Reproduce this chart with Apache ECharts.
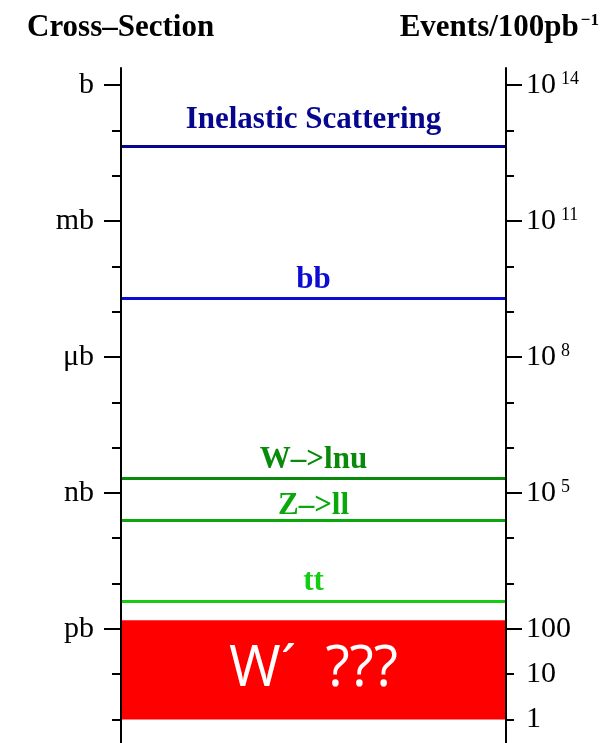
<!DOCTYPE html>
<html>
<head>
<meta charset="utf-8">
<title>Cross-Section</title>
<script src="https://cdn.jsdelivr.net/npm/echarts@6/dist/echarts.min.js"></script>
<style>
  html, body { margin: 0; padding: 0; background: #fff; }
  #chart { width: 608px; height: 743px; }
</style>
</head>
<body>
<div id="chart"></div>
<script>
// Processes and their cross-sections (in pb)
const processNames = ['Inelastic Scattering', 'bb', 'W–>lnu', 'Z–>ll', 'tt'];
const crossSectionPb = [4.6e10, 2.0e7, 2100, 254, 4.1];

// Search region for a new W' boson (cross-section range in pb)
const searchLabel = 'W\u00B4  ???';
const searchRangePb = [0.01, 1.55];

// Left axis: cross-section units at each power of ten (log10 pb)
const unitExponents = [12, 9, 6, 3, 0];
const unitLabels = ['b', 'mb', 'μb', 'nb', 'pb'];
const minorExponents = [11, 10, 8, 7, 5, 4, 2, 1, -1, -2];

// Right axis: expected events for 100 pb^-1 (log10 of cross-section in pb + 2)
const eventExponents = [12, 9, 6, 3, 0, -1, -2];
const eventLabels = [['10', '14'], ['10', '11'], ['10', '8'], ['10', '5'], ['100'], ['10'], ['1']];
const eventMajorExponents = [12, 9, 6, 3, 0];
const eventMinorExponents = [11, 10, 8, 7, 5, 4, 2, 1, -1, -2];

const processColors = ['#06068f', '#0c0cd2', '#0a8a0a', '#0aa80a', '#14cc14'];
const labelDistance = [10, 2.5, 3, -1.5, 4];

const serif = '"Liberation Serif", "Times New Roman", serif';
// Visible extent of the axes, in log10(pb)
const AXIS_MIN = -2.52, AXIS_MAX = 12.38;

const chart = echarts.init(document.getElementById('chart'));

function yAxisBase(position) {
  return {
    type: 'value',
    position: position,
    min: AXIS_MIN,
    max: AXIS_MAX,
    z: 10,
    splitLine: { show: false },
    axisLine: { show: true, onZero: false, lineStyle: { color: '#000', width: 2 } },
    axisTick: { show: true, lineStyle: { color: '#000', width: 2 } },
    axisLabel: { show: false }
  };
}

const leftMajor = yAxisBase('left');
leftMajor.axisTick.customValues = unitExponents;
leftMajor.axisTick.length = 17;
leftMajor.axisLabel = {
  show: true,
  customValues: unitExponents,
  margin: 27,
  fontFamily: serif,
  fontSize: 30,
  color: '#000',
  formatter: function (v) {
    const i = unitExponents.indexOf(Math.round(v));
    return i >= 0 ? unitLabels[i] : '';
  }
};

const leftMinor = yAxisBase('left');
leftMinor.axisLine.show = false;
leftMinor.axisTick.customValues = minorExponents;
leftMinor.axisTick.length = 9;

const rightMajor = yAxisBase('right');
rightMajor.axisTick.customValues = eventMajorExponents;
rightMajor.axisTick.length = 16;
rightMajor.axisLabel = {
  show: true,
  customValues: eventExponents,
  margin: 20,
  fontFamily: serif,
  fontSize: 30,
  color: '#000',
  formatter: function (v) {
    const i = eventExponents.indexOf(Math.round(v));
    if (i < 0) return '';
    const parts = eventLabels[i];
    return parts.length > 1 ? '{b|' + parts[0] + '}{s|' + parts[1] + '}' : '{b|' + parts[0] + '}';
  },
  rich: {
    b: { fontFamily: serif, fontSize: 30, color: '#000' },
    s: { fontFamily: serif, fontSize: 18, color: '#000', verticalAlign: 'top', padding: [0, 0, 12, 5] }
  }
};

const rightMinor = yAxisBase('right');
rightMinor.axisLine.show = false;
rightMinor.axisTick.customValues = eventMinorExponents;
rightMinor.axisTick.length = 8;

const processSeries = processNames.map(function (name, i) {
  return {
    type: 'line',
    name: name,
    data: [],
    yAxisIndex: 0,
    silent: true,
    markLine: {
      silent: true,
      symbol: ['none', 'none'],
      animation: false,
      lineStyle: { color: processColors[i], width: 3, type: 'solid' },
      label: {
        show: true,
        position: 'insideMiddleTop',
        distance: labelDistance[i],
        formatter: name,
        fontFamily: serif,
        fontWeight: 'bold',
        fontSize: 31,
        lineHeight: 31,
        color: processColors[i]
      },
      emphasis: { disabled: true },
      data: [{ yAxis: Math.log10(crossSectionPb[i]) }]
    }
  };
});

const searchSeries = {
  type: 'line',
  name: searchLabel,
  data: [],
  yAxisIndex: 0,
  silent: true,
  markArea: {
    silent: true,
    animation: false,
    itemStyle: { color: '#ff0000', opacity: 1 },
    label: {
      show: true,
      position: 'inside',
      formatter: searchLabel,
      fontFamily: '"Open Sans", "DejaVu Sans", sans-serif',
      fontSize: 56,
      color: '#fff'
    },
    emphasis: { disabled: true },
    data: [[
      { yAxis: Math.log10(searchRangePb[0]) },
      { yAxis: Math.log10(searchRangePb[1]) }
    ]]
  }
};

chart.setOption({
  animation: false,
  backgroundColor: '#fff',
  title: [
    {
      text: 'Cross–Section',
      left: 22,
      top: 7,
      textStyle: { fontFamily: serif, fontWeight: 'bold', fontSize: 31, color: '#000' }
    },
    {
      text: '{t|Events/100pb}{s|−1}',
      right: 4,
      top: 7,
      textStyle: {
        rich: {
          t: { fontFamily: serif, fontWeight: 'bold', fontSize: 31, color: '#000' },
          s: { fontFamily: serif, fontWeight: 'bold', fontSize: 17, color: '#000', verticalAlign: 'top', padding: [0, 0, 12, 2] }
        }
      }
    }
  ],
  grid: { left: 121, right: 102, top: 68, bottom: 0, containLabel: false },
  xAxis: { type: 'value', min: 0, max: 1, show: false },
  yAxis: [leftMajor, leftMinor, rightMajor, rightMinor],
  series: [searchSeries].concat(processSeries)
});
</script>
</body>
</html>
